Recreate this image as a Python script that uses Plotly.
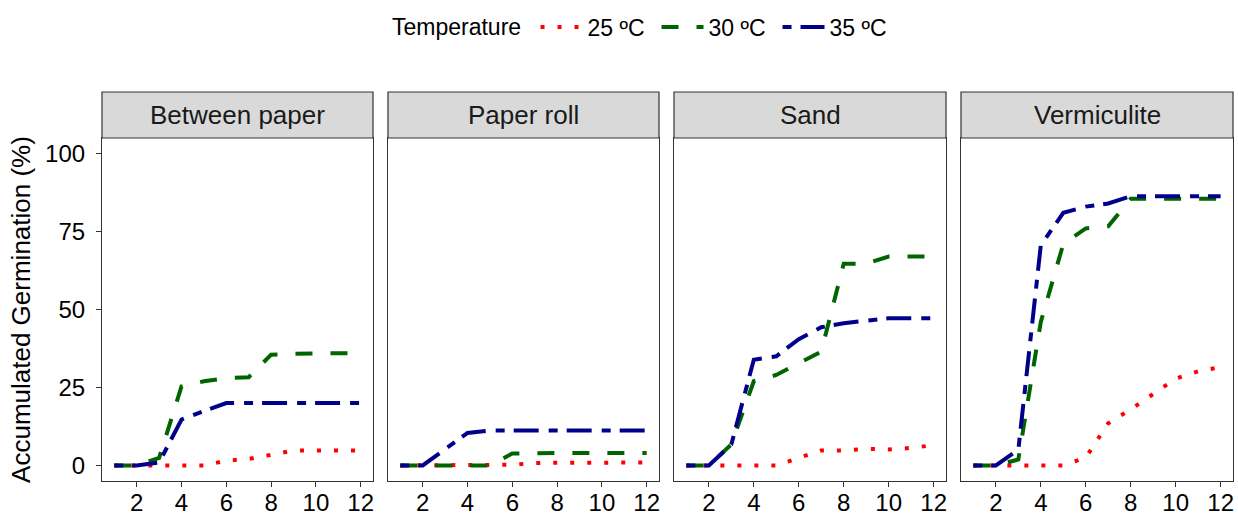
import plotly.graph_objects as go

days = list(range(1, 13))
substrates = ["Between paper", "Paper roll", "Sand", "Vermiculite"]
temps = ["25 ºC", "30 ºC", "35 ºC"]

bp_25 = [0, 0, 0, 0, 0, 1.5, 2.1, 3.4, 4.8, 4.8, 4.8, 4.8]
bp_30 = [0, 0, 2.4, 25.3, 27, 28, 28.3, 35.5, 35.8, 36, 36, 36]
bp_35 = [0, 0, 0.9, 14.7, 17.4, 20, 20, 20, 20, 20, 20, 20]

pr_25 = [0, 0, 0, 0, 0, 0.2, 0.8, 0.9, 0.9, 0.9, 0.9, 0.9]
pr_30 = [0, 0, 0, 0, 0, 3.8, 4, 4, 4, 4, 4, 4]
pr_35 = [0, 0, 5.2, 10.4, 11.2, 11.2, 11.2, 11.2, 11.2, 11.2, 11.2, 11.2]

sa_25 = [0, 0, 0, 0, 0, 2.4, 4.8, 4.8, 5.3, 5.1, 5.6, 6.5]
sa_30 = [0, 0, 6.7, 27, 29, 32.8, 36.5, 64.7, 64.7, 67, 67, 67]
sa_35 = [0, 0, 6.7, 33.9, 35, 40.5, 44.3, 45.6, 46.4, 47.2, 47.2, 47.2]

ve_25 = [0, 0, 0, 0, 0, 2.5, 13.5, 18, 23, 27.8, 30.2, 31.5]
ve_30 = [0, 0, 1.9, 46, 71, 76, 76.7, 85.5, 85.5, 85.5, 85.5, 85.5]
ve_35 = [0, 0, 5, 70.6, 81, 83, 84, 86.3, 86.3, 86.3, 86.3, 86.3]

series = {
    "Between paper": [bp_25, bp_30, bp_35],
    "Paper roll": [pr_25, pr_30, pr_35],
    "Sand": [sa_25, sa_30, sa_35],
    "Vermiculite": [ve_25, ve_30, ve_35],
}

x_ticks = [2, 4, 6, 8, 10, 12]
y_ticks = [0, 25, 50, 75, 100]

colors = ["#FF0000", "#006400", "#00008B"]
dashes = ["4px,13px", "17px,18px", "9px,9px,25px,10px"]

FONT = "Liberation Sans, Arial, sans-serif"
BIG = 26
TICK = 24
LEG = 23
W, H = 1238, 515
ml, mr, mt, mb = 102, 5, 92, 34
pw = W - ml - mr
ph = H - mt - mb
panel_px = [(102, 373), (388, 659), (674, 946), (961, 1233)]
ytop = (481 - 138) / ph
strip_h = 46 / (481 - 138)

fig = go.Figure()
layout = {}
for i, sub in enumerate(substrates):
    ax = "" if i == 0 else str(i + 1)
    for j, t in enumerate(temps):
        fig.add_trace(go.Scatter(
            x=days, y=series[sub][j], mode="lines", name=t,
            legendgroup=t, showlegend=(i == 0),
            line=dict(color=colors[j], width=4, dash=dashes[j]),
            xaxis="x" + ax, yaxis="y" + ax,
        ))
    x0, x1 = panel_px[i]
    layout["xaxis" + ax] = dict(
        domain=[(x0 - ml) / pw, (x1 - ml) / pw], range=[0.45, 12.55],
        tickvals=x_ticks, ticks="outside", ticklen=5, tickwidth=1.2,
        tickcolor="#333333", showline=True, mirror=True, linecolor="#333333",
        linewidth=1.2, showgrid=False, zeroline=False, automargin=False,
        ticklabelstandoff=-5,
        tickfont=dict(size=TICK, color="#000000", family=FONT),
        anchor="y" + ax,
    )
    layout["yaxis" + ax] = dict(
        domain=[0, ytop], range=[-5, 105], tickvals=y_ticks,
        ticks="outside" if i == 0 else "", ticklen=5, tickwidth=1.2,
        tickcolor="#333333", showticklabels=(i == 0), showline=True,
        mirror=True, linecolor="#333333", linewidth=1.2, showgrid=False,
        zeroline=False, automargin=False, ticklabelstandoff=6,
        tickfont=dict(size=TICK, color="#000000", family=FONT),
        anchor="x" + ax,
    )
    if i == 0:
        layout["yaxis"]["title"] = dict(
            text="Accumulated Germination (%)",
            font=dict(size=BIG, color="#000000", family=FONT), standoff=6)
    fig.add_shape(type="rect", xref="x" + ax + " domain", yref="y" + ax + " domain",
                  x0=0, x1=1, y0=1, y1=1 + strip_h,
                  fillcolor="#D9D9D9", line=dict(color="#333333", width=1.2))
    fig.add_annotation(text=sub, xref="x" + ax + " domain", yref="y" + ax + " domain",
                       x=0.5, y=1 + strip_h / 2, showarrow=False,
                       font=dict(size=BIG, color="#1A1A1A", family=FONT),
                       xanchor="center", yanchor="middle")

fig.update_layout(
    width=W, height=H,
    margin=dict(l=ml, r=mr, t=mt, b=mb, autoexpand=False),
    paper_bgcolor="white", plot_bgcolor="white",
    font=dict(family=FONT, size=LEG, color="#000000"),
    legend=dict(
        orientation="h", x=(390 - ml) / pw, xanchor="left", y=1 + (92 - 27) / ph,
        yanchor="middle", title=dict(text="Temperature ", font=dict(size=LEG)),
        font=dict(size=LEG), itemwidth=42, entrywidth=64,
    ),
    **layout,
)

fig.write_html(
    "out.html",
    config={"displayModeBar": False},
    post_script="document.body.style.margin='0';document.body.style.overflow='hidden';",
)
